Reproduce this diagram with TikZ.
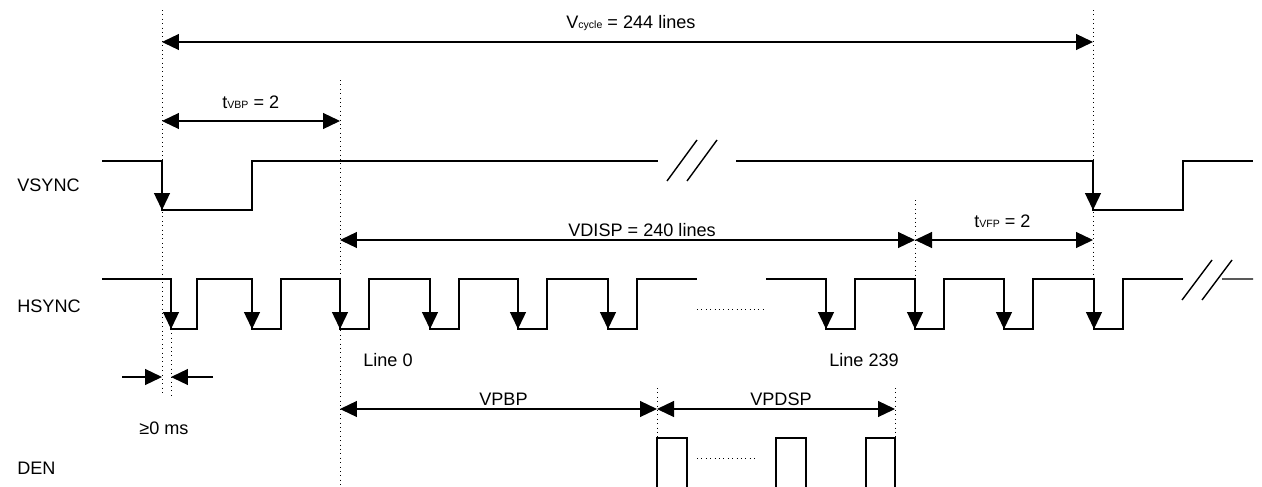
\documentclass[tikz,border=0pt]{standalone}
\usepackage{fontspec}
\setmainfont{Liberation Sans}
\usetikzlibrary{arrows.meta}
\newcommand{\lowtxt}[1]{{\fontsize{6}{7}\selectfont #1}}

\begin{document}
\begin{tikzpicture}[x=0.02cm,y=-0.02cm,
    sig/.style={line width=0.8pt},
    edge/.style={sig,-{Triangle[length=0.34cm,width=0.32cm]}},
    dim/.style={line width=0.7pt,{Triangle[length=0.34cm,width=0.32cm]}-{Triangle[length=0.34cm,width=0.32cm]}},
    guide/.style={line width=0.5pt,dotted},
    lbl/.style={anchor=base west,inner sep=0pt,font=\fontsize{10.3}{12}\selectfont}]
  \useasboundingbox (0,0) rectangle (1262,487);

  % guide lines
  \coordinate (g0t) at (162,10);  \coordinate (g0b) at (162,395);
  \coordinate (g1t) at (171,329); \coordinate (g1b) at (171,395);
  \coordinate (g2t) at (340,80);  \coordinate (g2b) at (340,487);
  \coordinate (g3t) at (915,200); \coordinate (g3b) at (915,279);
  \coordinate (g4t) at (1093,10); \coordinate (g4b) at (1093,279);
  \coordinate (g5t) at (657,388); \coordinate (g5b) at (657,438);
  \coordinate (g6t) at (895,388); \coordinate (g6b) at (895,438);
  \foreach \g in {0,...,6}
    \draw[guide] (g\g t) -- (g\g b);

  % signal names
  \node[lbl] (vsync) at (17,191) {VSYNC};
  \node[lbl] (hsync) at (17,312) {HSYNC};
  \node[lbl] (den)   at (17,474) {DEN};

  % VSYNC
  \draw[sig] (102,161) -- (162,161) -- (162,210) -- (252,210) -- (252,161) -- (658,161);
  \draw[sig] (736,161) -- (1093,161) -- (1093,210) -- (1183,210) -- (1183,161) -- (1253,161);
  \draw[sig] (667,181) -- (697,140) (687,181) -- (717,140);
  \foreach \f in {162,1093}
    \draw[edge] (\f,161) -- (\f,210);

  % HSYNC
  \draw[sig] (102,279) -- (171,279) -- (171,329) -- (197,329) -- (197,279)
    \foreach \f in {252,340,430,518,608} { -- (\f,279) -- (\f,329) -- (\f+29,329) -- (\f+29,279) }
    -- (697,279);
  \draw[sig] (766,279)
    \foreach \f in {826,915,1004,1094} { -- (\f,279) -- (\f,329) -- (\f+29,329) -- (\f+29,279) }
    -- (1183,279);
  \draw[sig] (1182,300) -- (1212,260) (1202,300) -- (1232,260) (1222,279) -- (1253,279);
  \draw[guide] (697,309) -- (766,309);
  \foreach \f in {171,252,340,430,518,608,826,915,1004,1094}
    \draw[edge] (\f,279) -- (\f,329);

  % DEN
  \foreach \f/\w in {657/30,776/30,866/29}
    \draw[sig] (\f,487) -- (\f,438) -- (\f+\w,438) -- (\f+\w,487);
  \draw[guide] (697,458) -- (756,458);

  % timing arrows
  \draw[dim] (g0t |- 0,42) -- (g4t |- 0,42);
  \node[lbl] (vcycle) at (566,28) {V\lowtxt{cycle} = 244 lines};
  \draw[dim] (g0t |- 0,121) -- (g2t |- 0,121);
  \node[lbl] (tvbp) at (222,108) {t\lowtxt{VBP} = 2};
  \draw[dim] (g2t |- 0,240) -- (g3t |- 0,240);
  \node[lbl] (vdisp) at (568,236) {VDISP = 240 lines};
  \draw[dim] (g3t |- 0,240) -- (g4t |- 0,240);
  \node[lbl] (tvfp) at (974,227) {t\lowtxt{VFP} = 2};
  \draw[dim] (g2t |- 0,409) -- (g5t |- 0,409);
  \node[lbl] (vpbp) at (479,405) {VPBP};
  \draw[dim] (g5t |- 0,409) -- (g6t |- 0,409);
  \node[lbl] (vpdsp) at (750,405) {VPDSP};
  \coordinate (gap-l) at (122,377);
  \coordinate (gap-r) at (213,377);
  \draw[edge,line width=0.7pt] (gap-l) -- (g0t |- gap-l);
  \draw[edge,line width=0.7pt] (gap-r) -- (g1t |- gap-r);
  \node[lbl] (gap) at (139,434) {≥0 ms};
  \node[lbl] (line0) at (363,366) {Line 0};
  \node[lbl] (line239) at (829,366) {Line 239};
\end{tikzpicture}
\end{document}
